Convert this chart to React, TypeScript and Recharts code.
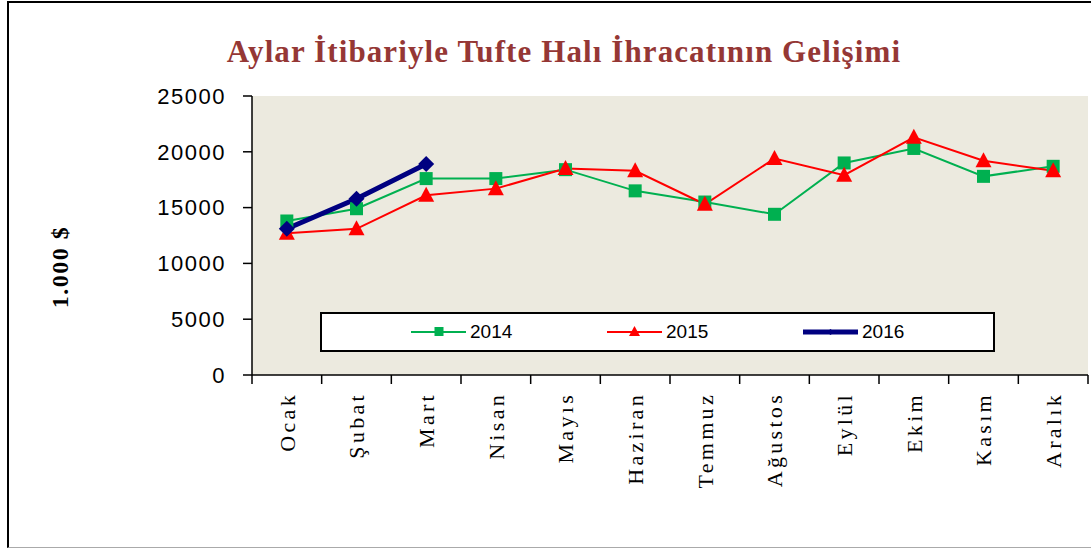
import React from 'react';
import { LineChart, Line, XAxis, YAxis, CartesianGrid, Legend } from 'recharts';

const months = ['Ocak', 'Şubat', 'Mart', 'Nisan', 'Mayıs', 'Haziran', 'Temmuz', 'Ağustos', 'Eylül', 'Ekim', 'Kasım', 'Aralık'];
const exports2014 = [13800, 14900, 17600, 17600, 18400, 16500, 15500, 14400, 19000, 20300, 17800, 18700];
const exports2015 = [12700, 13100, 16100, 16700, 18500, 18300, 15300, 19400, 17900, 21300, 19200, 18300];
const exports2016 = [13100, 15800, 18900];
const yTicks = [0, 5000, 10000, 15000, 20000, 25000];

const data = months.map((m, i) => ({
  month: m,
  y2014: exports2014[i],
  y2015: exports2015[i],
  y2016: i < exports2016.length ? exports2016[i] : null,
}));

const PLOT_LEFT = 252;
const PLOT_RIGHT = 1088;
const BAND = (PLOT_RIGHT - PLOT_LEFT) / months.length;

const MonthTick: React.FC<any> = ({ x, y, payload, index }) => (
  <g>
    <line x1={x - BAND / 2} y1={y} x2={x - BAND / 2} y2={y + 9} stroke="#000" strokeWidth={1.5} />
    {index === months.length - 1 && (
      <line x1={x + BAND / 2} y1={y} x2={x + BAND / 2} y2={y + 9} stroke="#000" strokeWidth={1.5} />
    )}
    <text
      x={x}
      y={y + 17}
      transform={`rotate(-90 ${x} ${y + 17})`}
      textAnchor="end"
      dy="0.35em"
      fontFamily="'Liberation Serif', serif"
      fontSize={22}
      letterSpacing={3.3}
      fill="#000"
    >
      {payload.value}
    </text>
  </g>
);

const Square: React.FC<any> = ({ cx, cy }) =>
  cx == null || cy == null ? null : <rect x={cx - 6.5} y={cy - 6.5} width={13} height={13} fill="#00B050" />;

const Triangle: React.FC<any> = ({ cx, cy }) =>
  cx == null || cy == null ? null : (
    <path d={`M${cx},${cy - 8.5} L${cx + 8},${cy + 6.5} L${cx - 8},${cy + 6.5} Z`} fill="#FF0000" />
  );

const Diamond: React.FC<any> = ({ cx, cy }) =>
  cx == null || cy == null ? null : (
    <path d={`M${cx},${cy - 8} L${cx + 8},${cy} L${cx},${cy + 8} L${cx - 8},${cy} Z`} fill="#000080" />
  );

const legendItems = [
  { label: '2014', color: '#00B050', width: 2, marker: 'square' },
  { label: '2015', color: '#FF0000', width: 2, marker: 'triangle' },
  { label: '2016', color: '#000080', width: 5, marker: 'diamond' },
];

const LegendBox: React.FC = () => (
  <div
    style={{
      position: 'relative',
      width: 675,
      height: 40,
      boxSizing: 'border-box',
      background: '#fff',
      border: '2px solid #000',
    }}
  >
    {legendItems.map((it, i) => (
      <div
        key={it.label}
        style={{ position: 'absolute', left: 89 + i * 196, top: 0, height: 36, display: 'flex', alignItems: 'center' }}
      >
        <svg width={55} height={20}>
          <line x1={0} y1={10} x2={55} y2={10} stroke={it.color} strokeWidth={it.width} />
          {it.marker === 'square' && <rect x={23.5} y={5} width={9} height={9} fill={it.color} />}
          {it.marker === 'triangle' && <path d="M27.5,4 L33,14 L22,14 Z" fill={it.color} />}
          {it.marker === 'diamond' && <path d="M27.5,7 L31,10 L27.5,13 L24,10 Z" fill={it.color} />}
        </svg>
        <span
          style={{
            marginLeft: 4,
            fontFamily: "'Liberation Sans', Arial, sans-serif",
            fontSize: 19,
            color: '#000',
          }}
        >
          {it.label}
        </span>
      </div>
    ))}
  </div>
);

const App: React.FC = () => {
  return (
    <div style={{ position: 'absolute', left: 0, top: 0, width: 1091, height: 548, background: '#fff', overflow: 'hidden' }}>
      <div
        style={{
          position: 'absolute',
          left: 7,
          top: 1,
          width: 1120,
          height: 544,
          borderTop: '2px solid #000',
          borderLeft: '2px solid #000',
          borderBottom: '1px solid #aaa',
        }}
      />
      <div
        style={{
          position: 'absolute',
          left: 0,
          top: 36,
          width: 1128,
          textAlign: 'center',
          fontFamily: "'Liberation Serif', serif",
          fontWeight: 'bold',
          fontSize: 31,
          lineHeight: '31px',
          letterSpacing: 1.1,
          color: '#953735',
        }}
      >
        Aylar İtibariyle Tufte Halı İhracatının Gelişimi
      </div>
      <div style={{ position: 'absolute', left: 0, top: 0 }}>
        <LineChart width={1091} height={548} data={data} margin={{ top: 96, right: 3, bottom: 23, left: 0 }}>
          <CartesianGrid horizontal={false} vertical={false} fill="#ECEADF" />
          <XAxis
            dataKey="month"
            height={150}
            interval={0}
            padding={{ left: BAND / 2, right: BAND / 2 }}
            axisLine={{ stroke: '#000', strokeWidth: 1.5 }}
            tickLine={false}
            tickSize={0}
            tickMargin={0}
            tick={<MonthTick />}
          />
          <YAxis
            width={252}
            domain={[0, 25000]}
            ticks={yTicks}
            interval={0}
            axisLine={{ stroke: '#000', strokeWidth: 1.5 }}
            tickLine={{ stroke: '#000', strokeWidth: 1.5 }}
            tickSize={9}
            tickMargin={17}
            tick={{ fill: '#000', fontSize: 22, fontFamily: "'Liberation Sans', Arial, sans-serif", letterSpacing: 1.5 }}
            label={{
              content: () => (
                <text
                  x={60}
                  y={267}
                  transform="rotate(-90 60 267)"
                  textAnchor="middle"
                  dy="0.35em"
                  fontFamily="'Liberation Serif', serif"
                  fontWeight="bold"
                  fontSize={24}
                  letterSpacing={1.5}
                  fill="#000"
                >
                  1.000 $
                </text>
              ),
            }}
          />
          <Legend
            layout="horizontal"
            verticalAlign="middle"
            align="center"
            content={<LegendBox />}
            wrapperStyle={{ left: 320, top: 312, width: 675, height: 40 }}
          />
          <Line
            type="linear"
            dataKey="y2014"
            name="2014"
            stroke="#00B050"
            strokeWidth={2}
            dot={<Square />}
            activeDot={false}
            isAnimationActive={false}
          />
          <Line
            type="linear"
            dataKey="y2015"
            name="2015"
            stroke="#FF0000"
            strokeWidth={2}
            dot={<Triangle />}
            activeDot={false}
            isAnimationActive={false}
          />
          <Line
            type="linear"
            dataKey="y2016"
            name="2016"
            stroke="#000080"
            strokeWidth={5}
            dot={<Diamond />}
            activeDot={false}
            connectNulls={false}
            isAnimationActive={false}
          />
        </LineChart>
      </div>
    </div>
  );
};

export default App;
